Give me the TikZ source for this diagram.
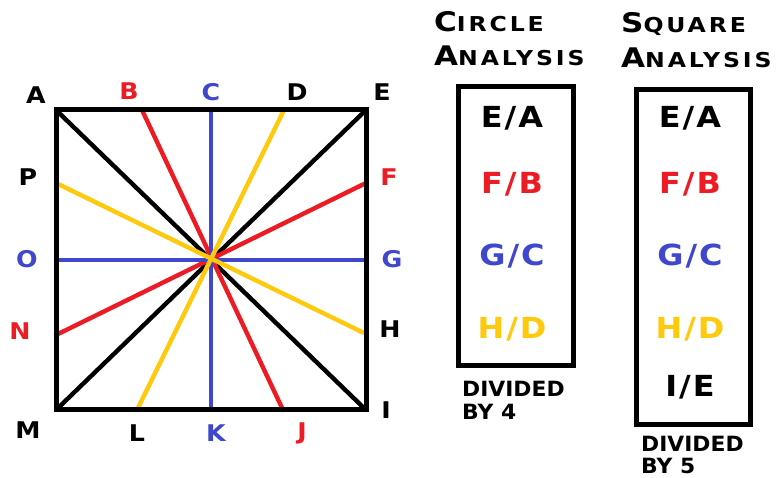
\documentclass[tikz,border=0pt]{standalone}
\usepackage{fontspec}
\setmainfont{DejaVu Sans}
\newfontfamily\labf[FakeStretch=1.1]{DejaVu Sans Bold}
\newfontfamily\boxf[FakeStretch=1.1]{DejaVu Sans Bold}
\newfontfamily\titf[FakeStretch=1.15,LetterSpace=14]{DejaVu Sans Bold}
\newfontfamily\divf[FakeStretch=1.04]{DejaVu Sans Bold}
\definecolor{pred}{RGB}{237,28,36}
\definecolor{pblue}{RGB}{63,72,204}
\definecolor{pyel}{RGB}{255,201,14}
\newcommand{\ttlcapx}[1]{{\fontsize{27}{27}\selectfont #1}}
\begin{document}
\begin{tikzpicture}[x=1pt,y=-1pt,
  ray/.style={line width=4.4pt,line cap=round},
  frame/.style={line width=5pt,line join=miter},
  lbl/.style={inner sep=0pt,font=\labf\fontsize{23}{23}\selectfont},
  boxtxt/.style={inner sep=0pt,anchor=base,font=\boxf\fontsize{29}{29}\selectfont},
  title/.style={inner sep=0pt,anchor=base west,font=\titf\fontsize{20.5}{20.5}\selectfont},
  divtxt/.style={inner sep=0pt,anchor=base west,font=\divf\fontsize{21}{21}\selectfont}]
\useasboundingbox[fill=white] (0,0) rectangle (780,478);
% square points
\coordinate (A) at (56,110);
\coordinate (B) at (142,110);
\coordinate (C) at (211,110);
\coordinate (D) at (284,110);
\coordinate (E) at (366,110);
\coordinate (F) at (366,183);
\coordinate (G) at (366,260);
\coordinate (H) at (366,334);
\coordinate (I) at (366,410);
\coordinate (J) at (283,410);
\coordinate (K) at (211,410);
\coordinate (L) at (137,410);
\coordinate (M) at (56,410);
\coordinate (N) at (56,335);
\coordinate (O) at (56,260);
\coordinate (P) at (56,183);
% rays
\draw[ray,black] (A) -- (I);
\draw[ray,black] (E) -- (M);
\draw[ray,pred] (B) -- (J);
\draw[ray,pred] (F) -- (N);
\draw[ray,pblue] (O) -- (G);
\draw[ray,pblue] (C) -- (K);
\draw[ray,pyel] (P) -- (H);
\draw[ray,pyel] (D) -- (L);
\draw[frame] (A) -- (E) -- (I) -- (M) -- cycle;
% labels
\node[lbl] (lA) at (36,95) {A};
\node[lbl,text=pred] (lB) at (129,91) {B};
\node[lbl,text=pblue] (lC) at (211,92) {C};
\node[lbl] (lD) at (297,92) {D};
\node[lbl] (lE) at (382,92) {E};
\node[lbl,text=pred] (lF) at (389,177) {F};
\node[lbl,text=pblue] (lG) at (392,259) {G};
\node[lbl] (lH) at (390,329) {H};
\node[lbl] (lI) at (386,410) {I};
\node[lbl,text=pred] (lJ) at (302,433) {J};
\node[lbl,text=pblue] (lK) at (216,433) {K};
\node[lbl] (lL) at (137,433) {L};
\node[lbl] (lM) at (28,430) {M};
\node[lbl,text=pred] (lN) at (20,331) {N};
\node[lbl,text=pblue] (lO) at (27,259) {O};
\node[lbl] (lP) at (28,177) {P};
% titles
\node[title] (t1) at (434,32) {\ttlcapx{C}IRCLE};
\node[title] (t2) at (434,66) {\ttlcapx{A}NALYSIS};
\node[title] (t3) at (621,33) {\ttlcapx{S}QUARE};
\node[title] (t4) at (621,68) {\ttlcapx{A}NALYSIS};
% boxes
\draw[frame] (458,87) rectangle (573,366);
\draw[frame] (636,90) rectangle (750,425);
\node[boxtxt] (c1) at (512,128) {E\kern2pt/\kern2pt A};
\node[boxtxt,text=pred] (c2) at (512,194) {F\kern2pt/\kern2pt B};
\node[boxtxt,text=pblue] (c3) at (512,266) {G\kern2pt/\kern2pt C};
\node[boxtxt,text=pyel] (c4) at (512,339) {H\kern2pt/\kern2pt D};
\node[boxtxt] (s1) at (690,128) {E\kern2pt/\kern2pt A};
\node[boxtxt,text=pred] (s2) at (690,194) {F\kern2pt/\kern2pt B};
\node[boxtxt,text=pblue] (s3) at (690,266) {G\kern2pt/\kern2pt C};
\node[boxtxt,text=pyel] (s4) at (690,339) {H\kern2pt/\kern2pt D};
\node[boxtxt] (s5) at (690,397) {I\kern2pt/\kern2pt E};
\node[divtxt] (d1) at (462,397) {DIVIDED};
\node[divtxt] (d2) at (462,420) {BY 4};
\node[divtxt] (d3) at (641,452) {DIVIDED};
\node[divtxt] (d4) at (641,474) {BY 5};
\end{tikzpicture}
\end{document}
